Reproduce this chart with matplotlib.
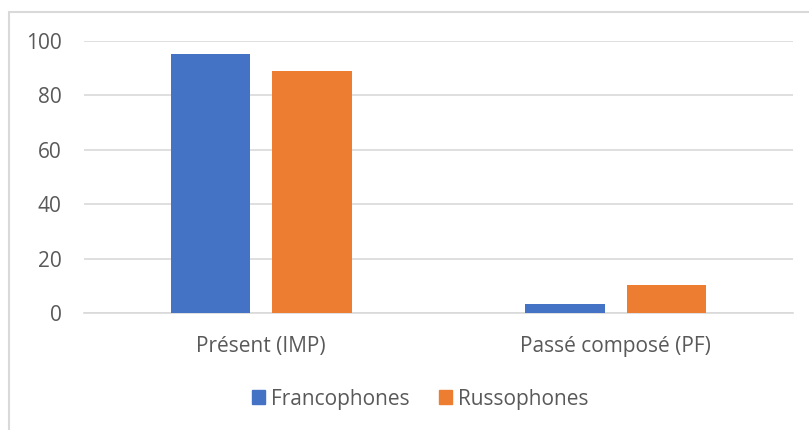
import matplotlib.pyplot as plt
from matplotlib.patches import Rectangle, Patch
import numpy as np

categories = ["Présent (IMP)", "Passé composé (PF)"]
francophones = [95, 3.5]
russophones = [89, 10.5]
series_names = ["Francophones", "Russophones"]

blue = "#4472C4"
orange = "#ED7D31"
grid_color = "#D9D9D9"
text_color = "#595959"

plt.rcParams['font.family'] = ['Open Sans', 'DejaVu Sans']

W, H = 809, 430
fig = plt.figure(figsize=(W / 100, H / 100), dpi=100)

# outer chart frame (runs off the right and bottom edges)
fig.patches.append(Rectangle((8.5 / W, -0.05), 1.2, 1 - 11.5 / H + 0.05, transform=fig.transFigure,
                             fill=False, edgecolor=grid_color, linewidth=1.5))

ax = fig.add_axes([84 / W, 1 - 313.3 / H, (793 - 84) / W, (313.3 - 40.7) / H])

x = np.arange(len(categories))
width = 0.224
offset = 0.1435
ax.bar(x - offset, francophones, width, color=blue, label=series_names[0], zorder=3)
ax.bar(x + offset, russophones, width, color=orange, label=series_names[1], zorder=3)

ax.set_xlim(-0.5, 1.5)
ax.set_ylim(0, 100)
ax.set_yticks(range(0, 101, 20))
ax.yaxis.grid(True, color=grid_color, linewidth=1.2, zorder=0)
ax.set_axisbelow(True)
for s in ["top", "right", "left"]:
    ax.spines[s].set_visible(False)
ax.spines["bottom"].set_color(grid_color)
ax.spines["bottom"].set_linewidth(1.2)

ax.set_xticks(x)
ax.set_xticklabels(categories)
ax.tick_params(axis="both", length=0, labelsize=15, colors=text_color)
ax.tick_params(axis="y", pad=16)
ax.tick_params(axis="x", pad=16)

handles = [Patch(color=blue), Patch(color=orange)]
fig.legend(handles, series_names, loc="center", bbox_to_anchor=(420 / W, 1 - 399 / H),
           ncol=2, frameon=False, fontsize=15, labelcolor=text_color,
           handlelength=0.62, handleheight=0.62, handletextpad=0.3, columnspacing=1.4)

fig.savefig("out.png", dpi=100, facecolor="white")
